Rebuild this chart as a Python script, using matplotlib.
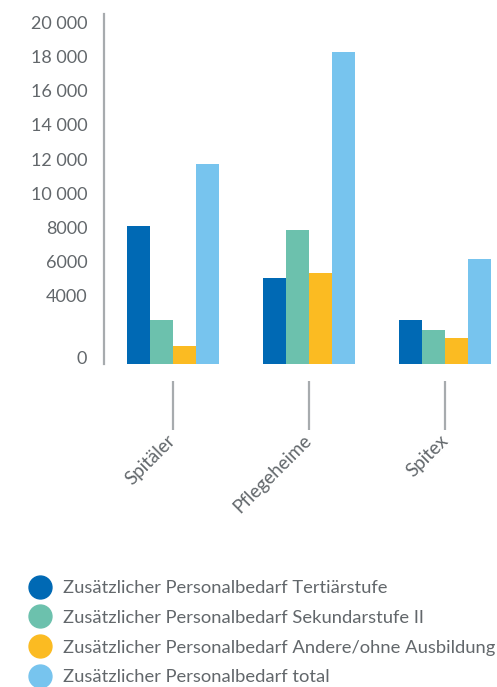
import numpy as np
import matplotlib
matplotlib.use("Agg")
import matplotlib.pyplot as plt
from matplotlib.lines import Line2D

# data
categories = ["Spitäler", "Pflegeheime", "Spitex"]
series_names = [
    "Zusätzlicher Personalbedarf Tertiärstufe",
    "Zusätzlicher Personalbedarf Sekundarstufe II",
    "Zusätzlicher Personalbedarf Andere/ohne Ausbildung",
    "Zusätzlicher Personalbedarf total",
]
tertiaer = [8100, 5050, 2580]
sekundar = [2580, 7850, 2000]
andere = [1050, 5330, 1530]
total = [11730, 18300, 6150]
yticks = [0, 4000, 6000, 8000, 10000, 12000, 14000, 16000, 18000, 20000]
ytick_labels = ["0", "4000", "6000", "8000", "10 000", "12 000", "14 000",
                "16 000", "18 000", "20 000"]

colors = ["#0069b4", "#6cc1ad", "#fbbb22", "#77c4ee"]
text_col = "#62676b"
plt.rcParams["font.family"] = ["Lato", "DejaVu Sans"]

fig = plt.figure(figsize=(4.97, 6.87), dpi=100)
ax = fig.add_axes([104 / 497, 1 - 364 / 687, 1 - 104 / 497, 350 / 687])

x = np.arange(len(categories))
w = 0.169
for i, vals in enumerate([tertiaer, sekundar, andere, total]):
    ax.bar(x + (i - 1.5) * w, vals, w, color=colors[i], linewidth=0)

ax.set_xlim(-0.505, 2.38)
ax.set_ylim(0, 20500)

## axis styling
for s in ["top", "right", "bottom"]:
    ax.spines[s].set_visible(False)
ax.spines["left"].set_color("#a7abae")
ax.spines["left"].set_linewidth(1.6)
ax.spines["bottom"].set_position(("outward", 12))

ax.set_yticks(yticks)
ax.set_yticklabels(ytick_labels)
ax.tick_params(axis="y", length=0, pad=12, labelsize=13, labelcolor=text_col)
ax.get_yticklabels()[0].set_va("baseline")

ax.set_xticks(x)
ax.set_xticklabels(categories)
ax.tick_params(axis="x", length=35, width=1.6, color="#a7abae", pad=6,
               labelsize=13.5, labelcolor=text_col)
for lab in ax.get_xticklabels():
    lab.set_rotation(45)
    lab.set_ha("right")
    lab.set_va("center")
    lab.set_rotation_mode("anchor")

## legend
handles = [Line2D([], [], marker="o", linestyle="none", markersize=16.5,
                  markerfacecolor=c, markeredgecolor=c) for c in colors]
leg = fig.legend(handles, series_names, loc="upper left",
                 bbox_to_anchor=(29 / 497, 1 - 580 / 687), frameon=False,
                 fontsize=13.2, labelspacing=0.75, handletextpad=0.65,
                 borderpad=0, borderaxespad=0, handlelength=1.2)
for t in leg.get_texts():
    t.set_color(text_col)

fig.savefig("out.png", dpi=100)
